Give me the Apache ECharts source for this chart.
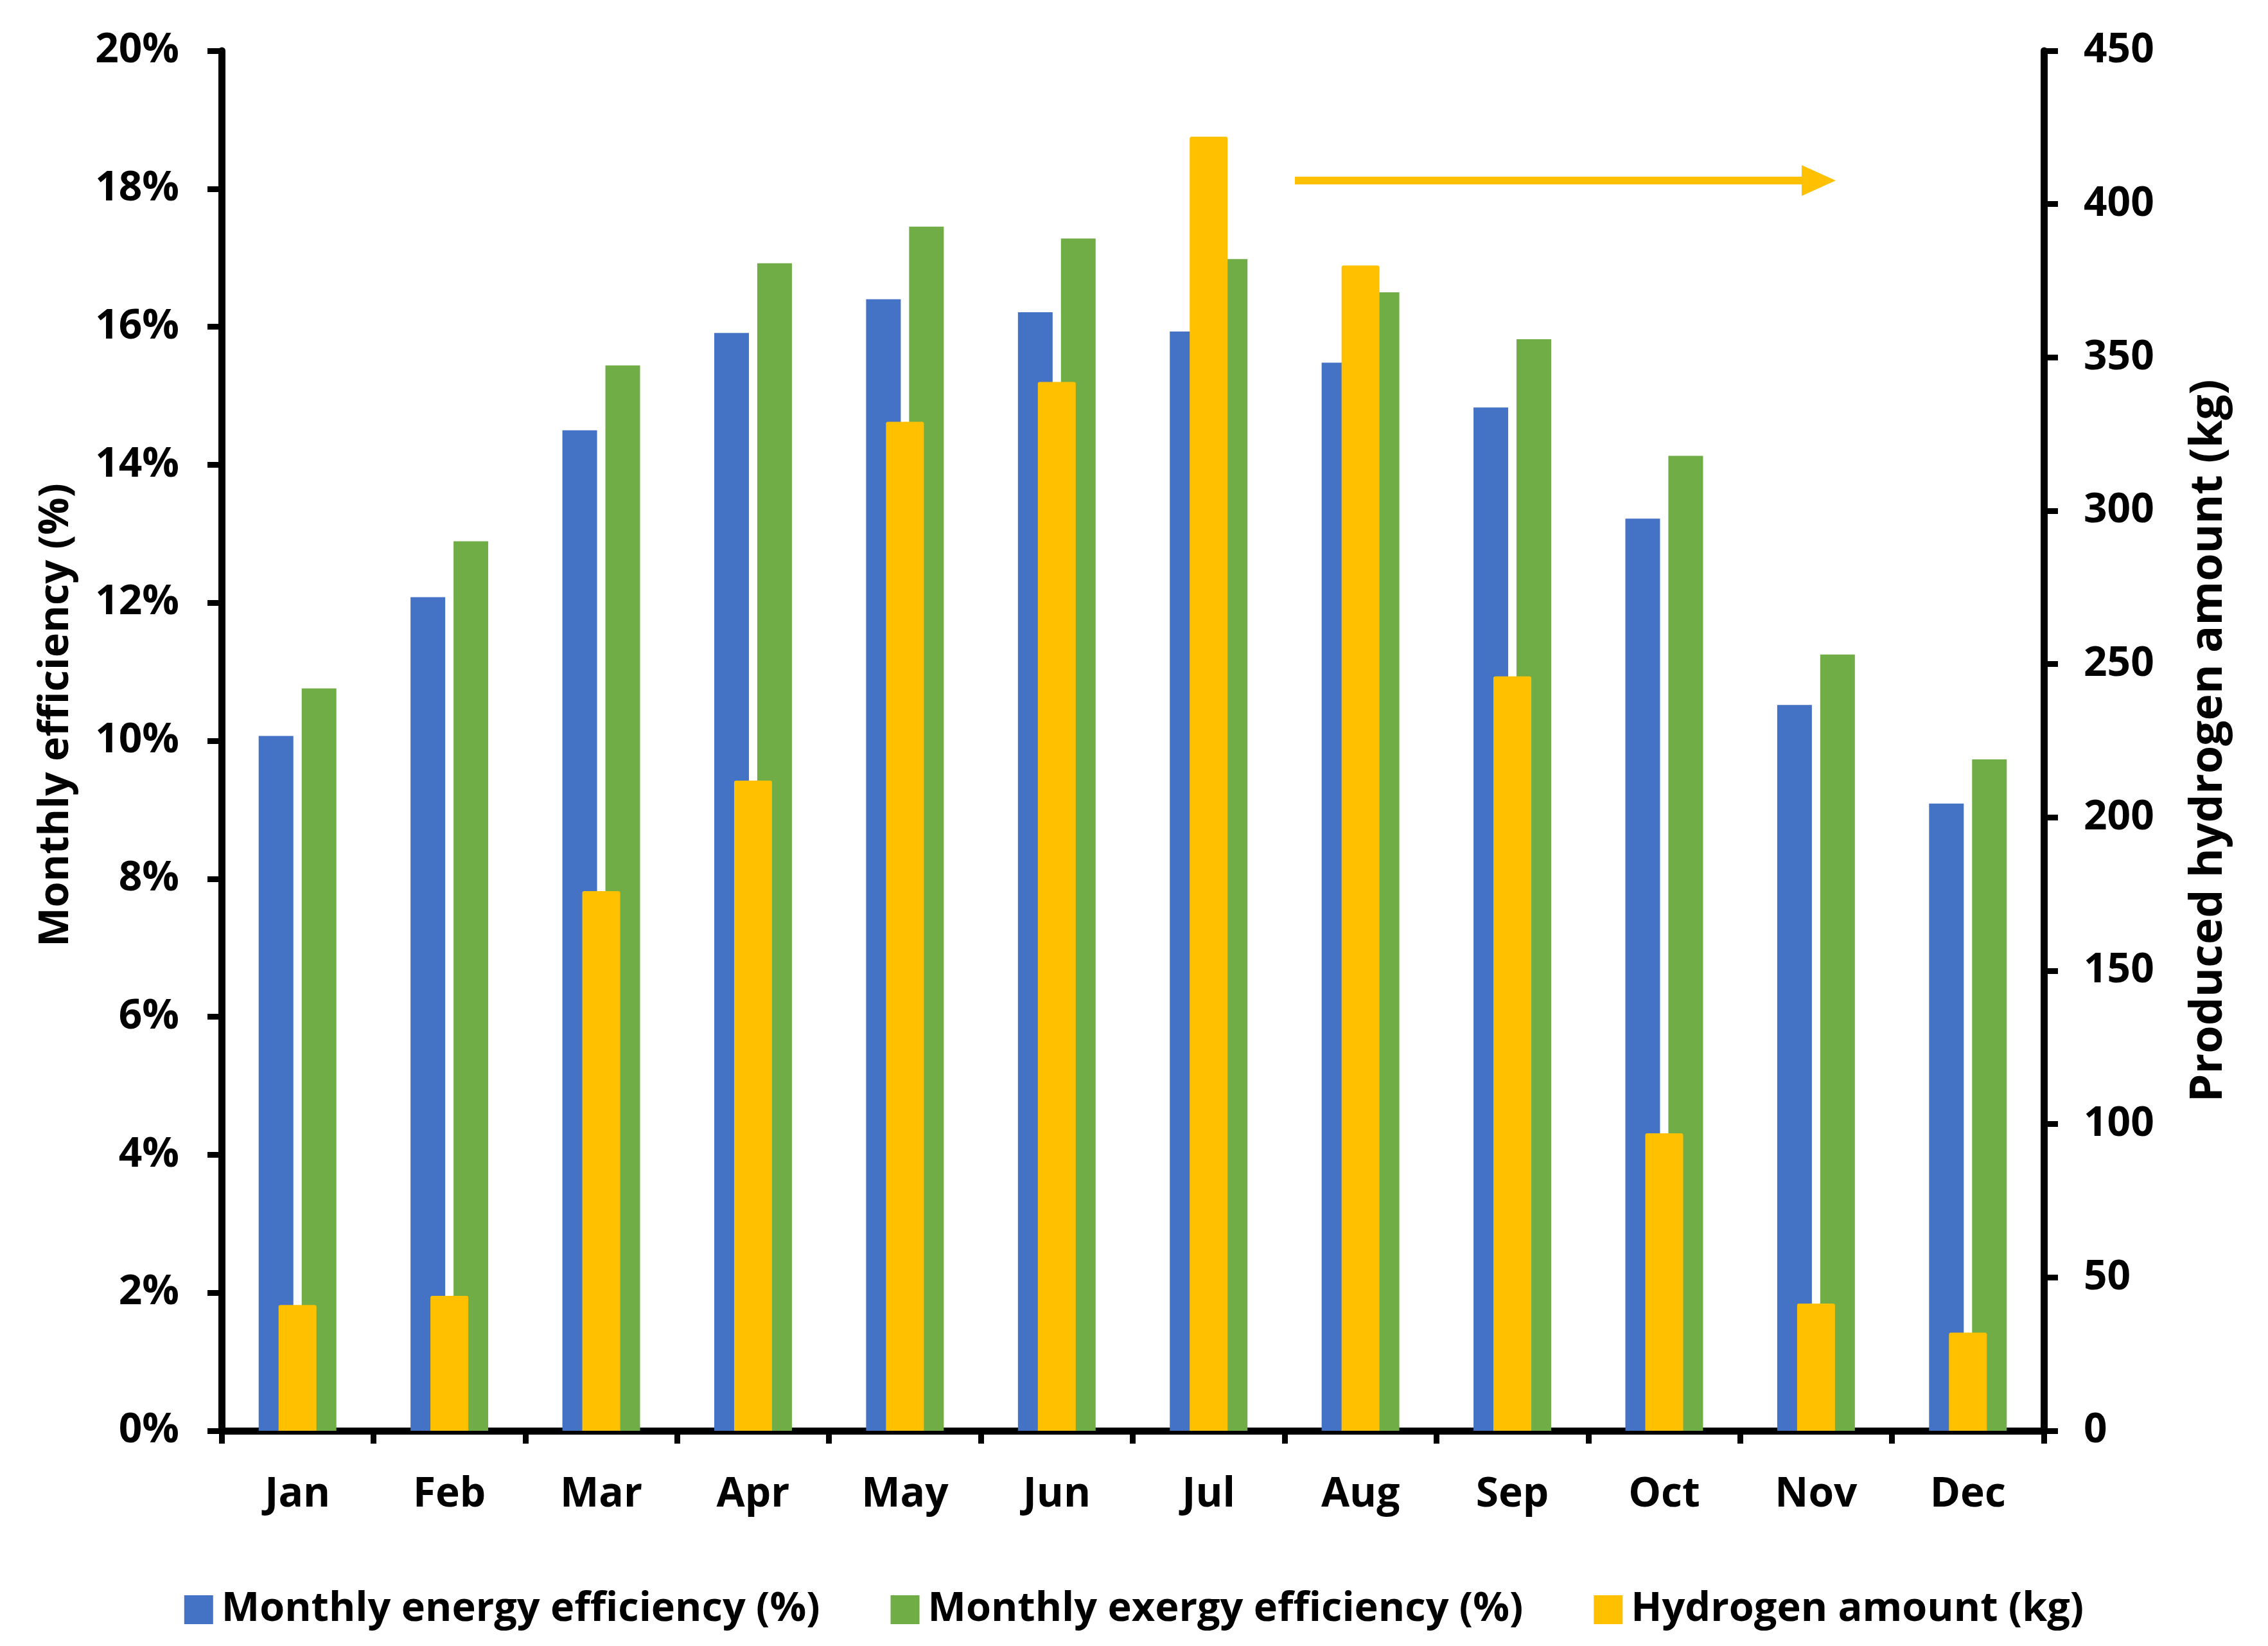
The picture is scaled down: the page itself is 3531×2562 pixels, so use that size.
<!DOCTYPE html>
<html>
<head>
<meta charset="utf-8">
<style>
  html, body { margin: 0; padding: 0; background: #ffffff; }
  #chart { width: 3531px; height: 2562px; }
</style>
<script src="https://cdn.jsdelivr.net/npm/echarts@6/dist/echarts.min.js"></script>
</head>
<body>
<div id="chart"></div>
<script>
const months = ['Jan', 'Feb', 'Mar', 'Apr', 'May', 'Jun', 'Jul', 'Aug', 'Sep', 'Oct', 'Nov', 'Dec'];
const energyEff = [10.07, 12.08, 14.50, 15.91, 16.40, 16.21, 15.93, 15.48, 14.83, 13.22, 10.52, 9.09];
const exergyEff = [10.76, 12.89, 15.44, 16.92, 17.45, 17.28, 16.98, 16.50, 15.82, 14.13, 11.25, 9.73];
const hydrogenKg = [41, 44, 176, 212, 329, 342, 422, 380, 246, 97, 41.5, 32];

const FONT = 'Open Sans';
const base = { color: '#000', fontFamily: FONT, fontWeight: 'bold' };
const tickTxt = Object.assign({}, base, { fontSize: 64 });
const leftTitleTxt = Object.assign({}, base, { fontSize: 65 });
const rightTitleTxt = Object.assign({}, base, { fontSize: 70 });
const legendTxt = Object.assign({}, base, { fontSize: 63 });

const chart = echarts.init(document.getElementById('chart'), null, { renderer: 'canvas' });
const option = {
  backgroundColor: '#ffffff',
  animation: false,
  grid: { left: 345, right: 349, top: 79, bottom: 335, containLabel: false, outerBoundsMode: 'none' },
  legend: {
    bottom: 20,
    left: 'center',
    icon: 'rect',
    itemWidth: 45,
    itemHeight: 45,
    itemGap: 110,
    textStyle: Object.assign({}, legendTxt, { padding: [0, 0, 0, 8] }),
    data: ['Monthly energy efficiency (%)', 'Monthly exergy efficiency (%)', 'Hydrogen amount (kg)']
  },
  xAxis: [
    {
      type: 'category',
      data: months,
      boundaryGap: true,
      axisLine: { show: true, lineStyle: { color: '#000', width: 11 } },
      axisTick: { show: true, alignWithLabel: false, length: 20, lineStyle: { color: '#000', width: 9 } },
      axisLabel: Object.assign({}, tickTxt, { margin: 68 }),
      splitLine: { show: false }
    },
    {
      type: 'category',
      data: months,
      boundaryGap: true,
      show: false
    }
  ],
  yAxis: [
    {
      type: 'value',
      min: 0, max: 20, interval: 2,
      position: 'left',
      name: 'Monthly efficiency (%)',
      nameLocation: 'middle',
      nameRotate: 90,
      nameGap: 225,
      nameTextStyle: Object.assign({}, leftTitleTxt, { padding: [0, 0, 0, 80] }),
      axisLine: { show: true, lineStyle: { color: '#000', width: 11 } },
      axisTick: { show: true, inside: false, length: 22, lineStyle: { color: '#000', width: 9 } },
      axisLabel: Object.assign({}, tickTxt, { margin: 66, formatter: '{value}%' }),
      splitLine: { show: false }
    },
    {
      type: 'value',
      min: 0, max: 450, interval: 50,
      position: 'right',
      name: 'Produced hydrogen amount (kg)',
      nameLocation: 'middle',
      nameRotate: 90,
      nameGap: 222,
      nameTextStyle: rightTitleTxt,
      axisLine: { show: true, lineStyle: { color: '#000', width: 11 } },
      axisTick: { show: true, inside: false, length: 22, lineStyle: { color: '#000', width: 9 } },
      axisLabel: Object.assign({}, tickTxt, { margin: 62 }),
      splitLine: { show: false }
    }
  ],
  series: [
    {
      name: 'Monthly energy efficiency (%)',
      type: 'bar',
      xAxisIndex: 0, yAxisIndex: 0,
      data: energyEff,
      barWidth: 54,
      barGap: '24%',
      itemStyle: { color: '#4472C4' }
    },
    {
      name: 'Monthly exergy efficiency (%)',
      type: 'bar',
      xAxisIndex: 0, yAxisIndex: 0,
      data: exergyEff,
      barWidth: 54,
      barGap: '24%',
      itemStyle: { color: '#70AD47' }
    },
    {
      name: 'Hydrogen amount (kg)',
      type: 'bar',
      xAxisIndex: 1, yAxisIndex: 1,
      data: hydrogenKg,
      barWidth: 59,
      z: 5,
      itemStyle: { color: '#FFC000', borderRadius: [3, 3, 0, 0] }
    }
  ],
  graphic: [
    {
      type: 'line',
      shape: { x1: 2016, y1: 281, x2: 2815, y2: 281 },
      style: { stroke: '#FFC000', lineWidth: 12 },
      z: 10
    },
    {
      type: 'polygon',
      shape: { points: [[2805, 257], [2858, 281], [2805, 305]] },
      style: { fill: '#FFC000' },
      z: 10
    }
  ]
};
chart.setOption(option);
</script>
</body>
</html>
